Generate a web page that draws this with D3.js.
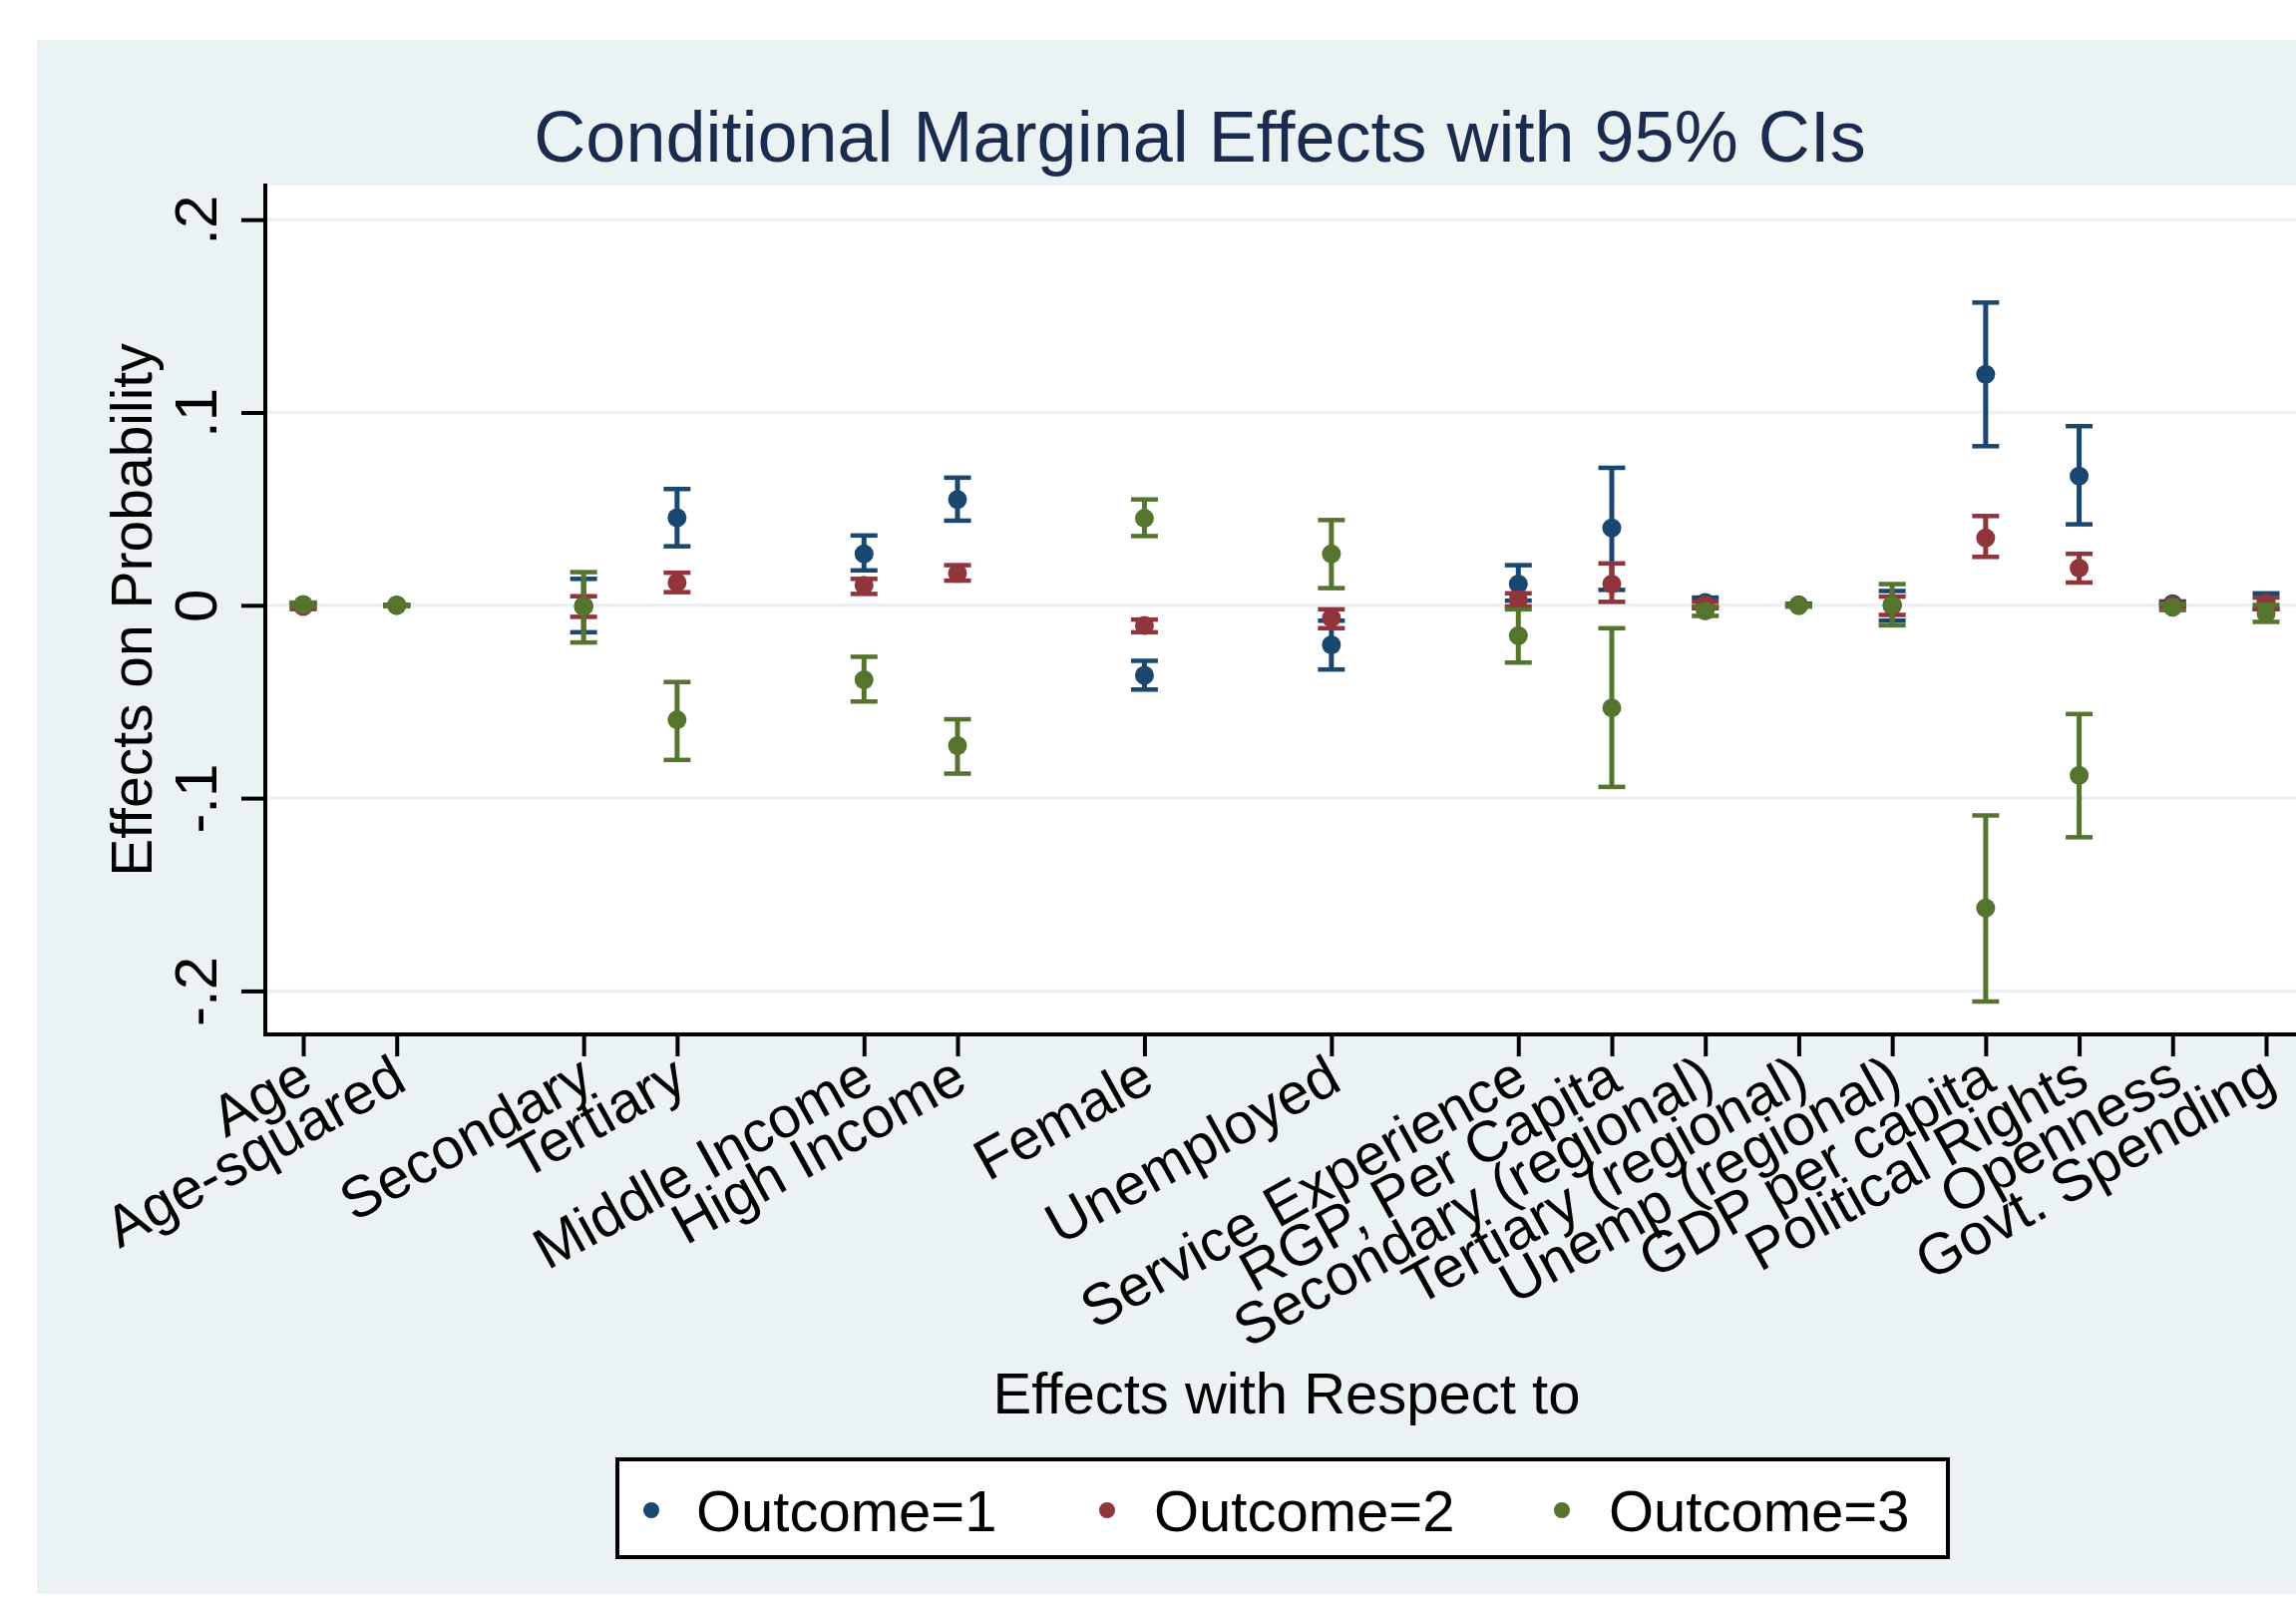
<!DOCTYPE html>
<html>
<head>
<meta charset="utf-8">
<script src="https://cdn.jsdelivr.net/npm/d3@7"></script>
<style>
  html, body { margin: 0; padding: 0; background: #ffffff; }
  svg { display: block; font-family: "Liberation Sans", Arial, sans-serif; }
</style>
</head>
<body>
<svg id="chart" width="2302" height="1605"></svg>
<script>
// categories and their positions on the x axis (gaps between groups)
const categories = ["Age", "Age-squared", "Secondary", "Tertiary", "Middle Income", "High Income",
    "Female", "Unemployed", "Service Experience", "RGP, Per Capita", "Secondary (regional)",
    "Tertiary (regional)", "Unemp (regional)", "GDP per capita", "Political Rights", "Openness",
    "Govt. Spending"];
const xPos = [1, 2, 4, 5, 7, 8, 10, 12, 14, 15, 16, 17, 18, 19, 20, 21, 22];

// Outcome=1
const est1 = [0.0002, 0.0000, -0.0003, 0.0454, 0.0267, 0.0549, -0.0363, -0.0205, 0.0110, 0.0401, 0.0015, 0.0002, 0.0000, 0.1198, 0.0670, 0.0008, 0.0020];
const lo1 = [-0.0008, -0.0002, -0.0140, 0.0306, 0.0181, 0.0439, -0.0437, -0.0333, 0.0024, 0.0080, -0.0010, -0.0004, -0.0080, 0.0825, 0.0420, -0.0005, -0.0020];
const hi1 = [0.0012, 0.0002, 0.0137, 0.0603, 0.0362, 0.0662, -0.0288, -0.0080, 0.0208, 0.0713, 0.0040, 0.0008, 0.0074, 0.1570, 0.0929, 0.0020, 0.0062];

// Outcome=2
const est2 = [-0.0006, 0.0000, -0.0007, 0.0118, 0.0104, 0.0166, -0.0104, -0.0066, 0.0030, 0.0110, 0.0003, 0.0001, -0.0003, 0.0349, 0.0193, 0.0002, 0.0010];
const lo2 = [-0.0020, -0.0002, -0.0060, 0.0068, 0.0059, 0.0128, -0.0140, -0.0119, -0.0006, 0.0018, -0.0015, -0.0004, -0.0050, 0.0251, 0.0118, -0.0008, -0.0020];
const hi2 = [0.0008, 0.0002, 0.0047, 0.0169, 0.0137, 0.0208, -0.0074, -0.0021, 0.0062, 0.0217, 0.0020, 0.0006, 0.0045, 0.0463, 0.0267, 0.0012, 0.0040];

// Outcome=3
const est3 = [0.0004, 0.0000, -0.0006, -0.0594, -0.0386, -0.0728, 0.0451, 0.0267, -0.0158, -0.0532, -0.0030, -0.0002, 0.0003, -0.1570, -0.0882, -0.0010, -0.0042];
const lo3 = [-0.0006, -0.0002, -0.0193, -0.0802, -0.0499, -0.0873, 0.0359, 0.0089, -0.0297, -0.0942, -0.0055, -0.0007, -0.0104, -0.2055, -0.1203, -0.0025, -0.0086];
const hi3 = [0.0014, 0.0002, 0.0172, -0.0398, -0.0267, -0.0591, 0.0549, 0.0442, -0.0021, -0.0119, -0.0005, 0.0003, 0.0110, -0.1090, -0.0564, 0.0005, 0.0002];

const yTicks = [-0.2, -0.1, 0, 0.1, 0.2];
const yTickLabels = ["-.2", "-.1", "0", ".1", ".2"];
const seriesNames = ["Outcome=1", "Outcome=2", "Outcome=3"];
const seriesColors = ["#1a476f", "#90353b", "#55752f"];

const W = 2302, H = 1605;
const plotLeft = 266, plotTop = 186, plotBottom = 1037;
const bg = "#eaf2f3";

const svg = d3.select("#chart");

// scales
let x = d3.scaleLinear().domain([1, 22]).range([304, 2272]);
let y = d3.scaleLinear().domain([-0.2, 0.2]).range([993.4, 220.2]);

// graph background + plot region
svg.append("rect").attr("x", 37).attr("y", 40).attr("width", W - 37).attr("height", 1558).attr("fill", bg);
svg.append("rect").attr("x", plotLeft).attr("y", plotTop).attr("width", W - plotLeft).attr("height", plotBottom - plotTop).attr("fill", "#ffffff");

// title
svg.append("text")
    .attr("x", 1203).attr("y", 162)
    .attr("text-anchor", "middle")
    .attr("font-size", 72)
    .attr("fill", "#1c2a4e")
    .text("Conditional Marginal Effects with 95% CIs");

// gridlines
svg.append("g")
    .selectAll("line")
    .data(yTicks)
    .join("line")
    .attr("x1", plotLeft).attr("x2", W)
    .attr("y1", d => y(d)).attr("y2", d => y(d))
    .attr("stroke", bg).attr("stroke-width", 3.5);

// y axis
let yAxis = d3.axisLeft(y)
    .tickValues(yTicks)
    .tickSize(24)
    .tickPadding(25)
    .tickFormat((d, i) => yTickLabels[i]);

let gy = svg.append("g").attr("transform", `translate(${plotLeft},0)`).call(yAxis);
gy.select(".domain").remove();
gy.selectAll(".tick line").attr("stroke", "#000").attr("stroke-width", 4);
gy.selectAll(".tick text")
    .attr("font-size", 60)
    .attr("fill", "#000")
    .attr("x", null).attr("dy", null)
    .attr("text-anchor", "middle")
    .attr("transform", "translate(-49,0) rotate(-90)");

svg.append("line")
    .attr("x1", plotLeft).attr("x2", plotLeft)
    .attr("y1", plotTop - 2).attr("y2", plotBottom + 2)
    .attr("stroke", "#000").attr("stroke-width", 4);

svg.append("text")
    .attr("transform", `translate(152,${(plotTop + plotBottom) / 2}) rotate(-90)`)
    .attr("text-anchor", "middle")
    .attr("font-size", 57)
    .attr("fill", "#000")
    .text("Effects on Probability");

// x axis
let xAxis = d3.axisBottom(x)
    .tickValues(xPos)
    .tickSize(22)
    .tickFormat((d, i) => categories[i]);

let gx = svg.append("g").attr("transform", `translate(0,${plotBottom})`).call(xAxis);
gx.select(".domain").remove();
gx.selectAll(".tick line").attr("stroke", "#000").attr("stroke-width", 4);
gx.selectAll(".tick text")
    .attr("font-size", 58)
    .attr("fill", "#000")
    .attr("y", null).attr("dy", null)
    .attr("text-anchor", "end")
    .attr("transform", "translate(12,54) rotate(-29)");

svg.append("line")
    .attr("x1", plotLeft - 2).attr("x2", W)
    .attr("y1", plotBottom).attr("y2", plotBottom)
    .attr("stroke", "#000").attr("stroke-width", 4);

svg.append("text")
    .attr("x", 1290).attr("y", 1417)
    .attr("text-anchor", "middle")
    .attr("font-size", 58)
    .attr("fill", "#000")
    .text("Effects with Respect to");

// error bars + points, one group per outcome
const series = [[est1, lo1, hi1], [est2, lo2, hi2], [est3, lo3, hi3]];
const capHalf = 13.5;

series.forEach(function(s, k) {
    let rows = xPos.map((p, i) => ({ p: p, est: s[0][i], lo: s[1][i], hi: s[2][i] }));
    let g = svg.append("g").attr("stroke", seriesColors[k]).attr("fill", seriesColors[k]);

    g.selectAll("line.bar")
        .data(rows)
        .join("line")
        .attr("class", "bar")
        .attr("x1", d => x(d.p)).attr("x2", d => x(d.p))
        .attr("y1", d => y(d.lo)).attr("y2", d => y(d.hi))
        .attr("stroke-width", 5);

    g.selectAll("line.caplo")
        .data(rows)
        .join("line")
        .attr("class", "caplo")
        .attr("x1", d => x(d.p) - capHalf).attr("x2", d => x(d.p) + capHalf)
        .attr("y1", d => y(d.lo)).attr("y2", d => y(d.lo))
        .attr("stroke-width", 4.5);

    g.selectAll("line.caphi")
        .data(rows)
        .join("line")
        .attr("class", "caphi")
        .attr("x1", d => x(d.p) - capHalf).attr("x2", d => x(d.p) + capHalf)
        .attr("y1", d => y(d.hi)).attr("y2", d => y(d.hi))
        .attr("stroke-width", 4.5);

    g.selectAll("circle")
        .data(rows)
        .join("circle")
        .attr("cx", d => x(d.p))
        .attr("cy", d => y(d.est))
        .attr("r", 9.5)
        .attr("stroke", "none");
});

// legend
svg.append("rect")
    .attr("x", 619).attr("y", 1463)
    .attr("width", 1334).attr("height", 98)
    .attr("fill", "#ffffff")
    .attr("stroke", "#000").attr("stroke-width", 4);

const legendMarkX = [653, 1110, 1566];
const legendTextX = [698, 1157, 1613];

svg.append("g")
    .selectAll("circle")
    .data(seriesNames)
    .join("circle")
    .attr("cx", (d, i) => legendMarkX[i])
    .attr("cy", 1514)
    .attr("r", 8)
    .attr("fill", (d, i) => seriesColors[i]);

svg.append("g")
    .selectAll("text")
    .data(seriesNames)
    .join("text")
    .attr("x", (d, i) => legendTextX[i])
    .attr("y", 1535)
    .attr("font-size", 58)
    .attr("fill", "#000")
    .text(d => d);
</script>
</body>
</html>
